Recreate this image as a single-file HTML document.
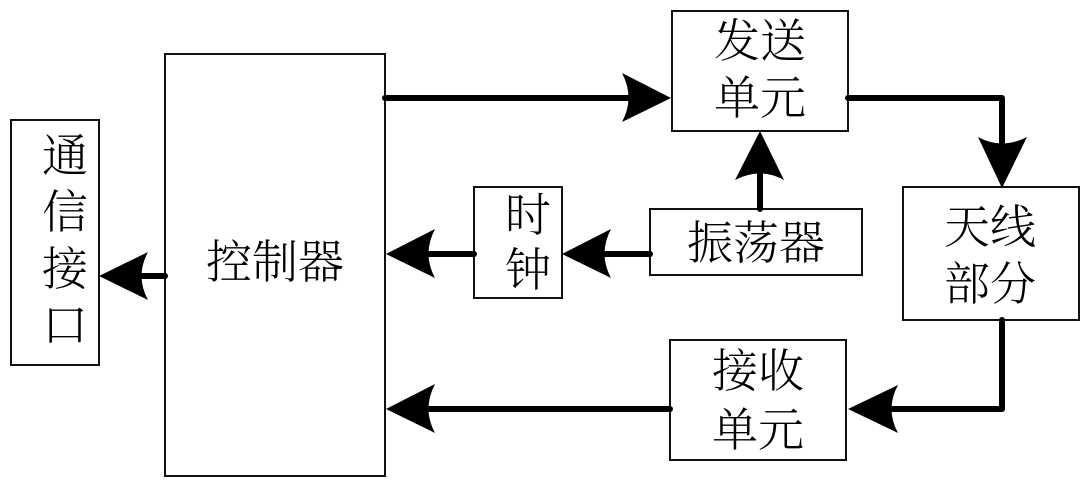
<!DOCTYPE html>
<html><head><meta charset="utf-8"><style>
html,body{margin:0;padding:0;background:#fff;width:1091px;height:488px;overflow:hidden}
svg{display:block}
text{font-family:"Liberation Serif","Noto Serif CJK SC",serif;font-size:46px;fill:#000;text-anchor:middle;font-weight:300}
rect{fill:#fff;stroke:#111;stroke-width:2}
.l{fill:none;stroke:#000;stroke-width:6;stroke-linejoin:round;stroke-linecap:round}
</style></head><body>
<svg width="1091" height="488" viewBox="0 0 1091 488" xmlns="http://www.w3.org/2000/svg">
<rect x="11" y="120" width="88" height="245"/>
<rect x="165" y="54" width="220" height="422"/>
<rect x="672" y="11" width="176" height="120"/>
<rect x="474" y="187" width="88" height="111"/>
<rect x="650" y="209" width="212" height="66"/>
<rect x="903" y="187" width="176" height="133"/>
<rect x="670" y="340" width="176" height="120"/>

<path class="l" d="M385 98H640"/>
<path class="l" d="M848 98H1002V150"/>
<path class="l" d="M1002 320V409H880"/>
<path class="l" d="M670 409H420"/>
<path class="l" d="M650 254H595"/>
<path class="l" d="M474 254H420"/>
<path class="l" d="M165 276H130"/>
<path class="l" d="M760 209V160"/>

<path d="M671 98L622 73Q635 98 622 122Z"/>
<path d="M1002 188L978 137Q1002 150 1027 137Z"/>
<path d="M848 409L898 385Q885 409 898 433Z"/>
<path d="M386 409L435 384Q422 409 435 433Z"/>
<path d="M386 254L435 229Q422 254 435 278Z"/>
<path d="M562 254L611 229Q598 254 611 278Z"/>
<path d="M99 276L148 252Q135 276 148 300Z"/>
<path d="M760 131L735 180Q760 167 784 180Z"/>

<text x="760" y="57">发送</text>
<text x="760" y="114">单元</text>
<text x="990" y="243">天线</text>
<text x="990" y="300">部分</text>
<text x="758" y="387">接收</text>
<text x="758" y="446">单元</text>
<text x="756" y="259">振荡器</text>
<text x="275" y="278">控制器</text>
<text x="528" y="231">时</text>
<text x="528" y="286">钟</text>
<text x="65" y="172">通</text>
<text x="65" y="228">信</text>
<text x="65" y="285">接</text>
<text x="65" y="341">口</text>
</svg>
</body></html>
